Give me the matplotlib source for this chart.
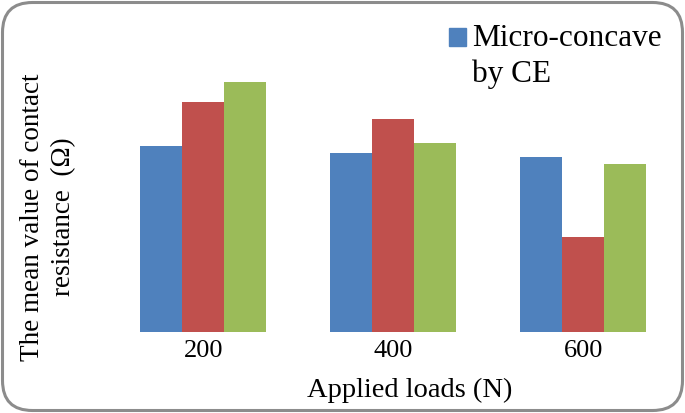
import matplotlib.pyplot as plt
from matplotlib.patches import FancyBboxPatch, Patch, Rectangle
from matplotlib.legend_handler import HandlerPatch
from matplotlib.transforms import IdentityTransform
import numpy as np

plt.rcParams['font.family'] = ['Liberation Serif', 'DejaVu Serif']

loads = ['200', '400', '600']
series_names = ['Micro-concave\nby CE', 'series 2', 'series 3']
blue_vals = [186, 179, 175]
red_vals = [230, 213, 95]
green_vals = [250, 189, 168]
colors = ['#4F81BD', '#C0504D', '#9BBB59']

fig = plt.figure(figsize=(6.85, 4.13), dpi=100)
ax = fig.add_axes([108.5 / 685, 81 / 413, 569.5 / 685, 292 / 413])

x = np.arange(len(loads))
w = 0.221
for i, vals in enumerate([blue_vals, red_vals, green_vals]):
    ax.bar(x + (i - 1) * w, vals, w, color=colors[i], linewidth=0)

ax.set_xlim(-0.5, 2.5)
ax.set_ylim(0, 292)
ax.set_xticks(x)
ax.set_xticklabels(loads, fontsize=19)
ax.tick_params(axis='x', length=0, pad=6)
ax.set_yticks([])
for s in ax.spines.values():
    s.set_visible(False)
ax.set_xlabel('Applied loads (N)', fontsize=20.5, labelpad=11, x=(410 - 108.5) / 569.5)

fig.text(48 / 685, 1 - 217 / 413, 'The mean value of contact\nresistance  (\u03a9)',
         rotation=90, ha='center', va='center', fontsize=19.5, linespacing=1.3)


# legend square sits on the first line of a two-line label
def top_square(legend, orig_handle, xdescent, ydescent, width, height, fontsize):
    return Rectangle((-xdescent, -ydescent + height - width * 0.75), width, width)


handles = [Patch(color=colors[0])]
leg = fig.legend(handles, series_names[:1], loc='upper left',
                 bbox_to_anchor=(449 / 685, 1 - 24 / 413), frameon=False,
                 fontsize=22.5, handlelength=0.55, handleheight=2.1, handletextpad=0.2,
                 borderpad=0, borderaxespad=0, labelspacing=0,
                 handler_map={Patch: HandlerPatch(patch_func=top_square)})
for t in leg.get_texts():
    t.set_linespacing(1.3)

border = FancyBboxPatch((2.5, 2.5), 680, 408, boxstyle='round,pad=0,rounding_size=30',
                        transform=IdentityTransform(), fill=False,
                        edgecolor='#8c8c8c', linewidth=2.2)
fig.patches.append(border)

fig.savefig('out.png', dpi=100)
